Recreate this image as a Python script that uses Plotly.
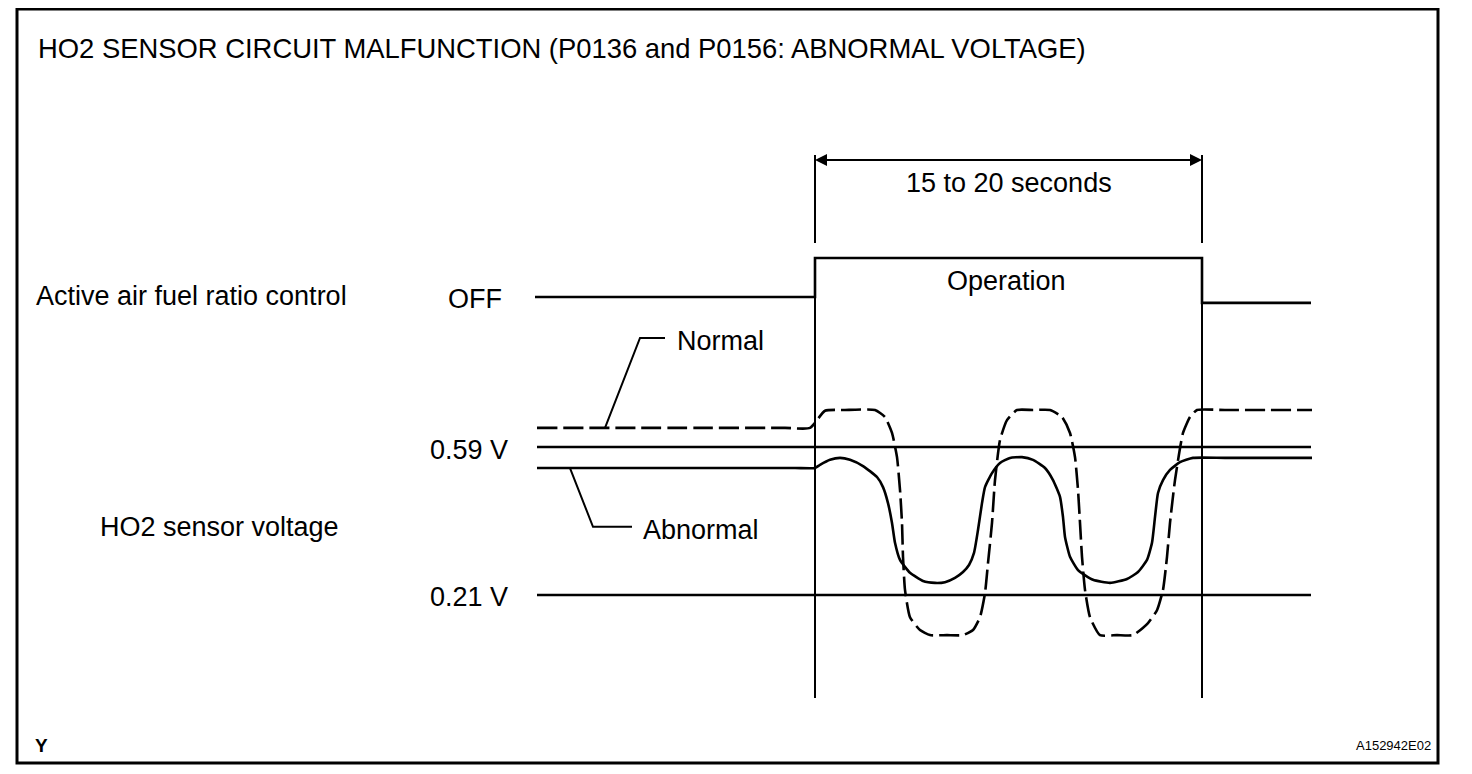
import plotly.graph_objects as go

# page body has an 8px margin -> figure is drawn 8px in from the top-left of the window
OFF_PX = 8
W, H = 1472 - OFF_PX, 774 - OFF_PX
FONT = "Liberation Sans, Arial, Helvetica, sans-serif"

# ---------------- data ----------------
# time in seconds (0 = start of active air-fuel ratio control), voltage in volts
op_start, op_end = 0.0, 19.35
t_start, t_stop = -14.0, 24.8

ctrl_t = [t_start, op_start, op_start, op_end, op_end, t_stop]
ctrl_state = [0, 0, 1, 1, -0.15, -0.15]          # 0 = OFF, 1 = Operation

thresholds = [0.59, 0.21]
threshold_labels = ["0.59 V", "0.21 V"]

normal_t = [-13.9, -6.0, -1.5, -0.25, 0.5, 1.5, 3.0, 3.5, 3.85, 4.1, 4.25, 4.35, 4.4, 4.5, 4.75,
            5.25, 5.75, 6.6, 7.4, 7.9, 8.25, 8.5, 8.65, 8.85, 9.0, 9.25, 9.6, 10.1, 10.9, 11.75,
            12.35, 12.75, 13.0, 13.15, 13.25, 13.35, 13.5, 13.75, 14.25, 15.1, 15.9, 16.65, 17.1,
            17.4, 17.6, 17.75, 18.0, 18.4, 18.75, 19.1, 20.5, 24.85]
normal_v = [0.639, 0.639, 0.639, 0.639, 0.683, 0.685, 0.685, 0.667, 0.626, 0.564, 0.480, 0.395,
            0.308, 0.223, 0.153, 0.120, 0.107, 0.107, 0.107, 0.120, 0.153, 0.215, 0.292, 0.395,
            0.505, 0.608, 0.659, 0.685, 0.685, 0.685, 0.667, 0.626, 0.564, 0.480, 0.395, 0.308,
            0.223, 0.153, 0.107, 0.107, 0.107, 0.138, 0.171, 0.223, 0.308, 0.395, 0.505, 0.626,
            0.667, 0.685, 0.685, 0.685]

abnormal_t = [-13.9, -6.0, -1.0, 0.0, 0.25, 0.75, 1.25, 1.75, 2.4, 3.1, 3.4, 3.65, 3.85, 4.0,
              4.25, 4.75, 5.4, 6.0, 6.5, 7.0, 7.4, 7.7, 7.95, 8.15, 8.35, 8.5, 8.85, 9.25, 9.75,
              10.35, 10.9, 11.5, 11.9, 12.25, 12.4, 12.5, 12.75, 13.15, 13.9, 14.75, 15.6, 16.15,
              16.6, 16.85, 17.0, 17.15, 17.4, 17.75, 18.25, 18.9, 20.5, 24.85]
abnormal_v = [0.536, 0.536, 0.536, 0.536, 0.544, 0.557, 0.562, 0.557, 0.541, 0.513, 0.487, 0.446,
              0.395, 0.344, 0.300, 0.267, 0.246, 0.241, 0.243, 0.254, 0.269, 0.287, 0.318, 0.377,
              0.446, 0.487, 0.523, 0.549, 0.562, 0.564, 0.557, 0.536, 0.505, 0.462, 0.410, 0.359,
              0.308, 0.274, 0.249, 0.241, 0.251, 0.269, 0.300, 0.344, 0.410, 0.472, 0.505, 0.531,
              0.551, 0.562, 0.562, 0.562]

# leader lines for the "Normal" / "Abnormal" callouts
normal_leader_t = [-10.5, -8.75, -7.5]
normal_leader_v = [0.639, 0.870, 0.870]
abnormal_leader_t = [-12.25, -11.1, -9.15]
abnormal_leader_v = [0.536, 0.385, 0.385]

# ---------------- axis mapping ----------------
X_RANGE = [-40.35, 32.85]
Y_RANGE = [-0.24961, 1.71718]      # volts
Y2_RANGE = [-12.231, 7.410]        # control state


def px(x, y):
    """reference pixel position -> paper coordinates (for text/frame only)"""
    return (x - OFF_PX) / W, 1 - (y - OFF_PX) / H


BLACK = "black"
LW = 2.6

fig = go.Figure()

for v in thresholds:
    fig.add_trace(go.Scatter(x=[-13.9, t_stop], y=[v, v], mode="lines",
                             line=dict(color=BLACK, width=LW), hoverinfo="skip"))

fig.add_trace(go.Scatter(x=normal_t, y=normal_v, mode="lines",
                         line=dict(color=BLACK, width=LW, dash="20px,6px", shape="spline", smoothing=0.5),
                         name="Normal"))
fig.add_trace(go.Scatter(x=abnormal_t, y=abnormal_v, mode="lines",
                         line=dict(color=BLACK, width=LW, shape="spline", smoothing=0.5),
                         name="Abnormal"))
fig.add_trace(go.Scatter(x=normal_leader_t, y=normal_leader_v, mode="lines",
                         line=dict(color=BLACK, width=2), hoverinfo="skip"))
fig.add_trace(go.Scatter(x=abnormal_leader_t, y=abnormal_leader_v, mode="lines",
                         line=dict(color=BLACK, width=2), hoverinfo="skip"))

fig.add_trace(go.Scatter(x=ctrl_t, y=ctrl_state, mode="lines", yaxis="y2",
                         line=dict(color=BLACK, width=LW), name="Active air fuel ratio control"))

shapes = []
for tx in [op_start, op_end]:
    shapes.append(dict(type="line", xref="x", yref="y2", x0=tx, x1=tx, y0=1.385, y1=3.641,
                       line=dict(color=BLACK, width=2)))
    shapes.append(dict(type="line", xref="x", yref="y2", x0=tx, x1=tx, y0=-10.28, y1=1.0,
                       line=dict(color=BLACK, width=2)))
shapes.append(dict(type="line", xref="x", yref="y2", x0=op_start + 1, x1=op_end - 1, y0=3.513, y1=3.513,
                   line=dict(color=BLACK, width=2)))
fx0, fy0 = px(17, 763)
fx1, fy1 = px(1438, 9)
shapes.append(dict(type="rect", xref="paper", yref="paper", x0=fx0, x1=fx1, y0=fy0, y1=fy1,
                   line=dict(color=BLACK, width=3)))

annotations = []
mid = (op_start + op_end) / 2
for tip in [op_start, op_end]:
    annotations.append(dict(x=tip, y=3.513, xref="x", yref="y2", ax=mid, ay=3.513,
                            axref="x", ayref="y2", text="", showarrow=True,
                            arrowhead=2, arrowsize=1.2, arrowwidth=2, arrowcolor=BLACK, standoff=0))


def label(text, x, y, anchor="left", size=27, bold=False):
    xp, yp = px(x, y)
    annotations.append(dict(x=xp, y=yp, xref="paper", yref="paper", text=f"<b>{text}</b>" if bold else text,
                            showarrow=False, xanchor=anchor, yanchor="middle",
                            font=dict(family=FONT, size=size, color=BLACK)))


label("HO2 SENSOR CIRCUIT MALFUNCTION (P0136 and P0156: ABNORMAL VOLTAGE)", 36, 48, size=27.4)
label("15 to 20 seconds", 1009, 183, "center")
label("Operation", 1007, 281, "center")
label("Active air fuel ratio control", 34, 296)
label("OFF", 504, 299, "right")
label("Normal", 675, 341)
label(threshold_labels[0], 510, 450, "right")
label("HO2 sensor voltage", 98, 527)
label("Abnormal", 641, 530)
label(threshold_labels[1], 510, 597, "right")
label("Y", 33, 745, size=19, bold=True)
label("A152942E02", 1433, 745, "right", size=13)

fig.update_layout(
    width=W, height=H,
    margin=dict(l=0, r=0, t=0, b=0),
    paper_bgcolor="white", plot_bgcolor="white",
    showlegend=False,
    xaxis=dict(range=X_RANGE, visible=False, domain=[0, 1], fixedrange=True),
    yaxis=dict(range=Y_RANGE, visible=False, domain=[0, 1], fixedrange=True),
    yaxis2=dict(range=Y2_RANGE, visible=False, overlaying="y", fixedrange=True),
    shapes=shapes,
    annotations=annotations,
)

fig.write_html("out.html", config={"displayModeBar": False})
